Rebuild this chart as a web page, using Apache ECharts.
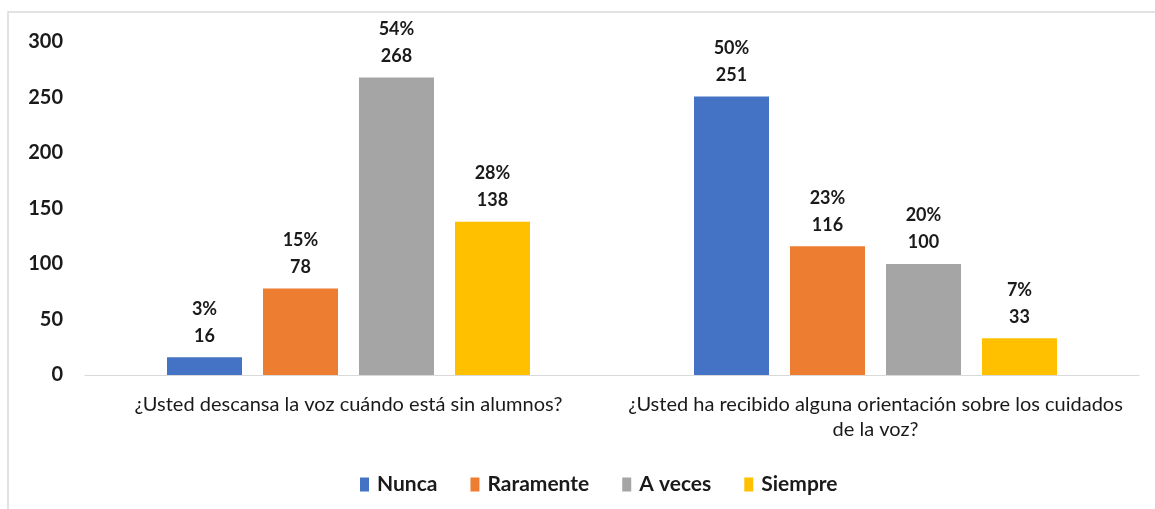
<!DOCTYPE html>
<html>
<head>
<meta charset="utf-8">
<script src="https://cdn.jsdelivr.net/npm/echarts@6/dist/echarts.min.js"></script>
<style>
  html, body { margin: 0; padding: 0; background: #fff; }
  #chart { width: 1155px; height: 509px; }
</style>
</head>
<body>
<div id="chart"></div>
<script>
// preguntas (categorías del eje x)
const categories = [
  '¿Usted descansa la voz cuándo está sin alumnos?',
  '¿Usted ha recibido alguna orientación sobre los cuidados\nde la voz?'
]
const seriesNames = ['Nunca', 'Raramente', 'A veces', 'Siempre']
const colors = ['#4472C4', '#ED7D31', '#A5A5A5', '#FFC000']

// valores por respuesta
const nunca = [16, 251]
const raramente = [78, 116]
const aVeces = [268, 100]
const siempre = [138, 33]

// porcentajes tal como aparecen en las etiquetas
const pctNunca = ['3%', '50%']
const pctRaramente = ['15%', '23%']
const pctAVeces = ['54%', '20%']
const pctSiempre = ['28%', '7%']

const yTicks = { min: 0, max: 300, interval: 50 }

const values = [nunca, raramente, aVeces, siempre]
const pcts = [pctNunca, pctRaramente, pctAVeces, pctSiempre]
const font = 'Lato, "Open Sans", sans-serif'

const chart = echarts.init(document.getElementById('chart'))

const option = {
  animation: false,
  textStyle: { fontFamily: font },
  graphic: [{
    type: 'rect',
    shape: { x: 8, y: 12, width: 1170, height: 520 },
    style: { fill: 'none', stroke: '#d9d9d9', lineWidth: 1.5 },
    silent: true
  }],
  grid: { left: 85, right: 16, top: 42, bottom: 134 },
  legend: {
    data: seriesNames,
    top: 469,
    left: 355,
    icon: 'rect',
    itemWidth: 9,
    itemHeight: 14,
    itemGap: 33,
    textStyle: { fontSize: 21, fontWeight: 'bold', color: '#1a1a1a', fontFamily: font, padding: [0, 0, 0, 3] }
  },
  xAxis: {
    type: 'category',
    data: categories,
    axisTick: { show: false },
    axisLine: { lineStyle: { color: '#d9d9d9', width: 1 } },
    axisLabel: {
      interval: 0,
      margin: 17,
      fontSize: 20,
      lineHeight: 25,
      color: '#1a1a1a',
      fontFamily: font
    }
  },
  yAxis: {
    type: 'value',
    min: yTicks.min,
    max: yTicks.max,
    interval: yTicks.interval,
    splitLine: { show: false },
    axisLine: { show: false },
    axisTick: { show: false },
    axisLabel: {
      margin: 22,
      fontSize: 20,
      fontWeight: 'bold',
      color: '#1a1a1a',
      fontFamily: font
    }
  },
  series: seriesNames.map((name, i) => ({
    name: name,
    type: 'bar',
    data: values[i],
    barWidth: 75,
    barGap: '28%',
    itemStyle: { color: colors[i] },
    label: {
      show: true,
      position: 'top',
      distance: 8,
      fontSize: 18,
      lineHeight: 27,
      fontWeight: 'bold',
      color: '#1a1a1a',
      fontFamily: font,
      formatter: (p) => pcts[i][p.dataIndex] + '\n' + p.value
    }
  }))
}

chart.setOption(option)
window.addEventListener('resize', () => chart.resize())
</script>
</body>
</html>
